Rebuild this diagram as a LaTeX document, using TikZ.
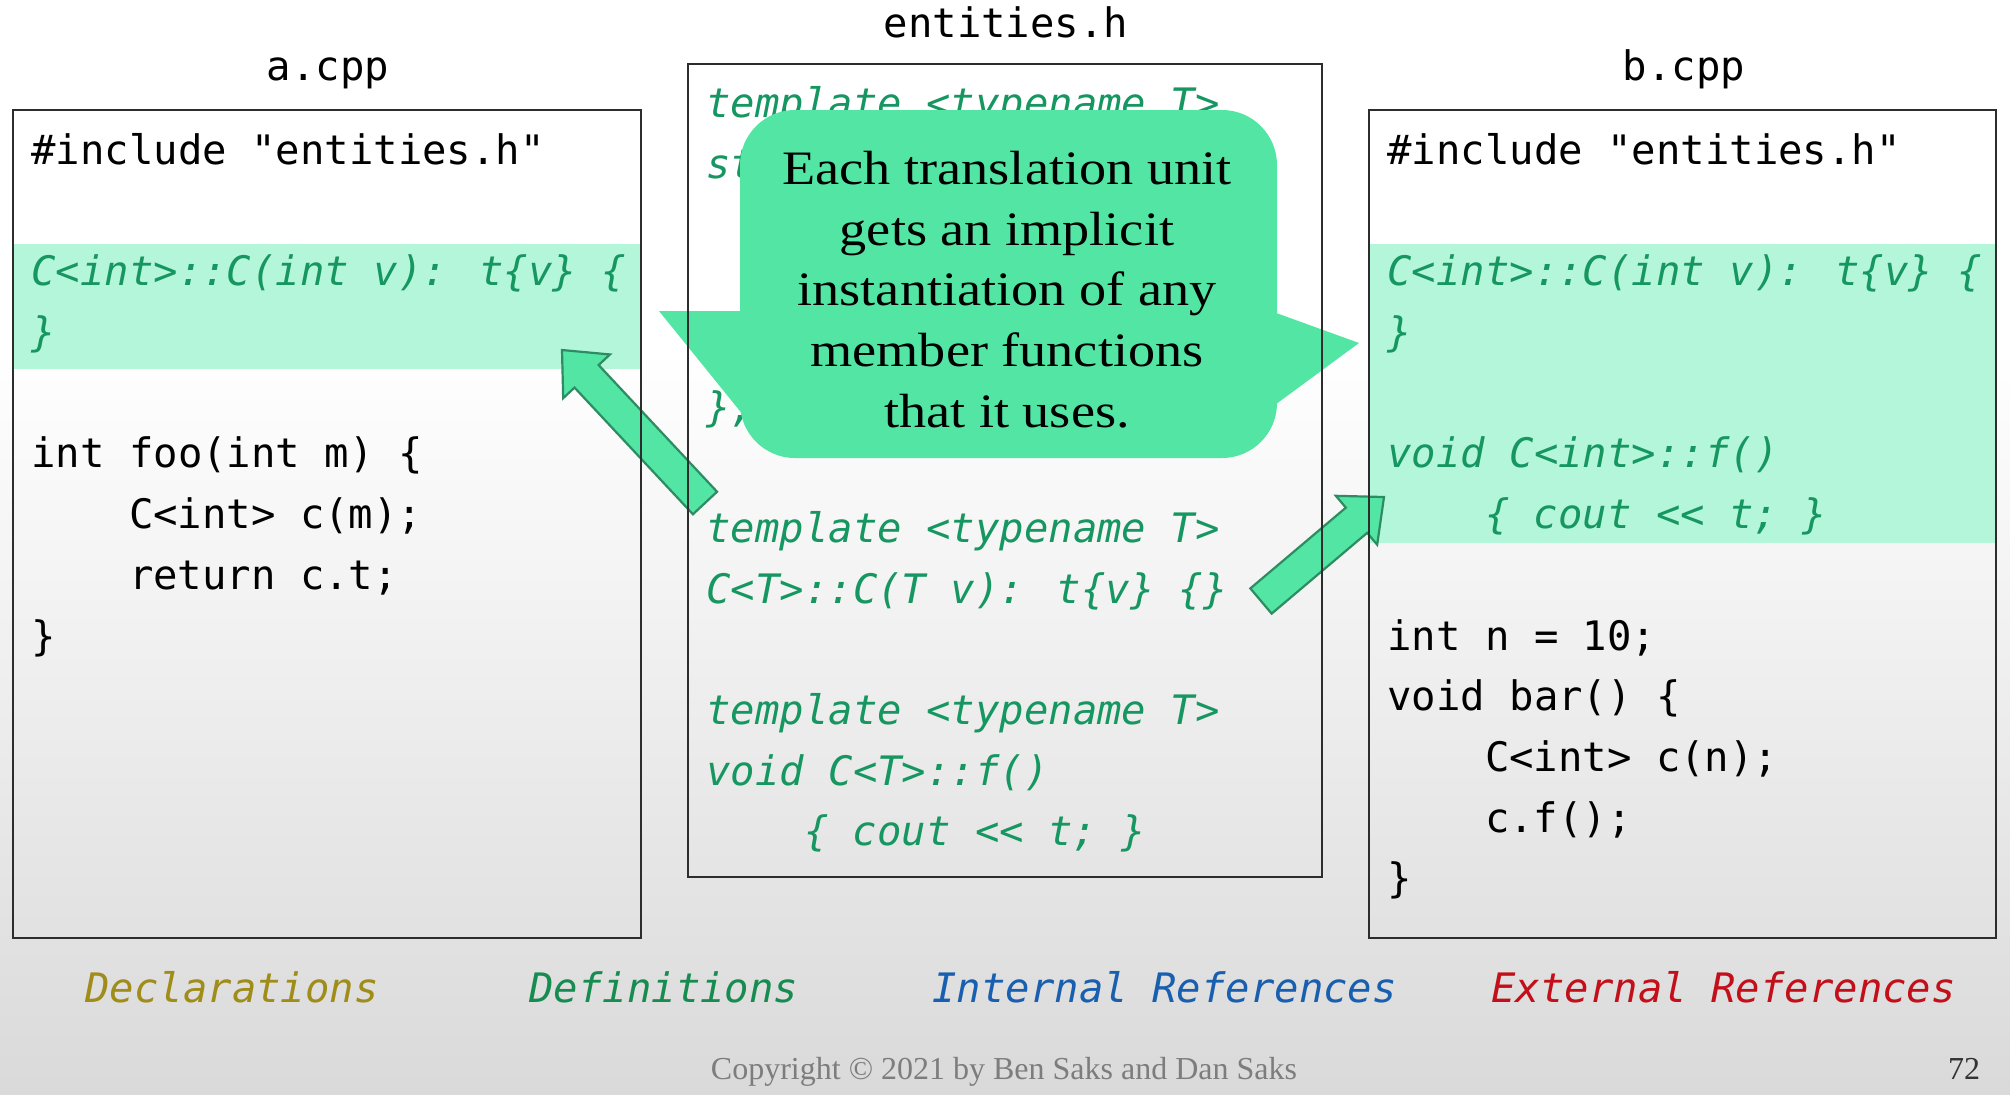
\documentclass[tikz,border=0pt]{standalone}
\usepackage{fontspec}
\usetikzlibrary{calc}

\newfontfamily\codefont{DejaVu Sans Mono}
\newfontfamily\calloutfont[FakeStretch=1.13]{Liberation Serif}
\newfontfamily\notefont{Liberation Serif}

\definecolor{mint}{RGB}{82,229,164}
\definecolor{mintedge}{RGB}{46,140,98}
\definecolor{bandmint}{RGB}{180,246,217}
\definecolor{codegreen}{RGB}{22,150,96}
\definecolor{boxline}{RGB}{45,45,45}
\definecolor{bgbot}{RGB}{190,190,190}
\definecolor{legdecl}{RGB}{160,140,25}
\definecolor{legdef}{RGB}{22,140,80}
\definecolor{legint}{RGB}{25,95,175}
\definecolor{legext}{RGB}{195,15,25}
\definecolor{notegray}{RGB}{125,125,125}

% slide background: white above, fading to grey towards the bottom
\pgfdeclareverticalshading{slidebg}{100bp}{color(0bp)=(bgbot); color(59bp)=(white); color(100bp)=(white)}

\tikzset{
  code/.style={font=\codefont\fontsize{20.3}{24}\selectfont, anchor=base west, inner sep=0pt, text=black},
  gcode/.style={font=\codefont\itshape\fontsize{20.3}{24}\selectfont, anchor=base west, inner sep=0pt, text=codegreen},
  title/.style={font=\codefont\fontsize{20.3}{24}\selectfont, anchor=base, inner sep=0pt, text=black},
  legend/.style={font=\codefont\itshape\fontsize{20.3}{24}\selectfont, anchor=base west, inner sep=0pt},
  filebox/.style={draw=boxline, line width=1.2pt},
  band/.style={fill=bandmint},
  bubble/.style={fill=mint},
  bubbletext/.style={font=\calloutfont\fontsize{24}{30.3}\selectfont, align=center, inner sep=0pt, text=black},
  blockarrow/.style={fill=mint, draw=mintedge, line width=1.1pt, line join=miter},
  note/.style={font=\notefont\fontsize{16}{19}\selectfont, anchor=base, inner sep=0pt, text=notegray},
}

% fat arrow from the coordinate #1 (tail) to the coordinate #2 (tip)
\newcommand\fatarrow[2]{%
  \coordinate (#2-neck) at ($(#2)!18pt!(#1)$);
  \filldraw[blockarrow]
    ($(#1)!8.25pt!90:(#2)$) -- ($(#2-neck)!8.25pt!90:(#2)$)
    -- ($(#2-neck)!16pt!90:(#2)$) -- (#2)
    -- ($(#2-neck)!16pt!-90:(#2)$) -- ($(#2-neck)!8.25pt!-90:(#2)$)
    -- ($(#1)!8.25pt!-90:(#2)$) -- cycle;
}

\begin{document}
\begin{tikzpicture}[x=0.5pt, y=-0.5pt]
  \useasboundingbox (0,0) rectangle (2010,1094);
  \shade[shading=slidebg] (0,0) rectangle (2010,1094);

  % highlighted instantiations
  \fill[band] (13,244) rectangle (641,369);
  \fill[band] (1369,244) rectangle (1996,543);

  % file names
  \node[title] (ta) at (328,80) {a.cpp};
  \node[title] (te) at (1006,37) {entities.h};
  \node[title] (tb) at (1684,80) {b.cpp};

  % a.cpp
  \node[code]  (a1) at (31,164)    {\#include "entities.h"};
  \node[gcode] (a2) at (31,285)    {C<int>::C(int v): t\{v\} \{};
  \node[gcode] (a3) at (31,346)    {\}};
  \node[code]  (a4) at (31,467.5)  {int foo(int m) \{};
  \node[code]  (a5) at (128.6,528) {C<int> c(m);};
  \node[code]  (a6) at (128.6,589) {return c.t;};
  \node[code]  (a7) at (31,650)    {\}};

  % entities.h
  \node[gcode] (e1) at (706,117)   {template <typename T>};
  \node[gcode] (e2) at (706,178)   {struct C \{};
  \node[gcode] (e3) at (706,421)   {\};};
  \node[gcode] (e4) at (706,542)   {template <typename T>};
  \node[gcode] (e5) at (706,603)   {C<T>::C(T v): t\{v\} \{\}};
  \node[gcode] (e6) at (706,724)   {template <typename T>};
  \node[gcode] (e7) at (706,785)   {void C<T>::f()};
  \node[gcode] (e8) at (803.6,845) {\{ cout << t; \}};

  % b.cpp
  \node[code]  (b1)  at (1387,164)    {\#include "entities.h"};
  \node[gcode] (b2)  at (1387,285)    {C<int>::C(int v): t\{v\} \{};
  \node[gcode] (b3)  at (1387,346)    {\}};
  \node[gcode] (b4)  at (1387,467.5)  {void C<int>::f()};
  \node[gcode] (b5)  at (1484.6,528)  {\{ cout << t; \}};
  \node[code]  (b6)  at (1387,650)    {int n = 10;};
  \node[code]  (b7)  at (1387,710)    {void bar() \{};
  \node[code]  (b8)  at (1484.6,771)  {C<int> c(n);};
  \node[code]  (b9)  at (1484.6,832)  {c.f();};
  \node[code]  (b10) at (1387,892)    {\}};

  % speech bubble over the class definition
  \fill[bubble, rounded corners=27.5pt] (740,110) rectangle (1277,458);
  \fill[bubble] (659,311) -- (748,311) -- (748,421) -- cycle;
  \fill[bubble] (1359,343) -- (1268,310) -- (1268,410) -- cycle;
  \node[bubbletext] (say) at (1007,289.5)
    {Each translation unit\\gets an implicit\\instantiation of any\\member functions\\that it uses.};

  % instantiation arrows
  \coordinate (la-tail) at (705,503);
  \coordinate (la-tip)  at (562,350);
  \coordinate (ra-tail) at (1261,601);
  \coordinate (ra-tip)  at (1384,497);
  \fatarrow{la-tail}{la-tip}
  \fatarrow{ra-tail}{ra-tip}

  % file frames
  \draw[filebox] (13,110) rectangle (641,938);
  \draw[filebox] (688,64) rectangle (1322,877);
  \draw[filebox] (1369,110) rectangle (1996,938);

  % legend
  \node[legend, text=legdecl] (ld) at (85,1002)   {Declarations};
  \node[legend, text=legdef]  (lf) at (529,1002)  {Definitions};
  \node[legend, text=legint]  (li) at (932,1002)  {Internal References};
  \node[legend, text=legext]  (lx) at (1491,1002) {External References};

  % footer
  \node[note] (copy) at (1004,1079) {Copyright \textcopyright{} 2021 by Ben Saks and Dan Saks};
  \node[note, text=black!80] (page) at (1964,1079) {72};
\end{tikzpicture}
\end{document}
